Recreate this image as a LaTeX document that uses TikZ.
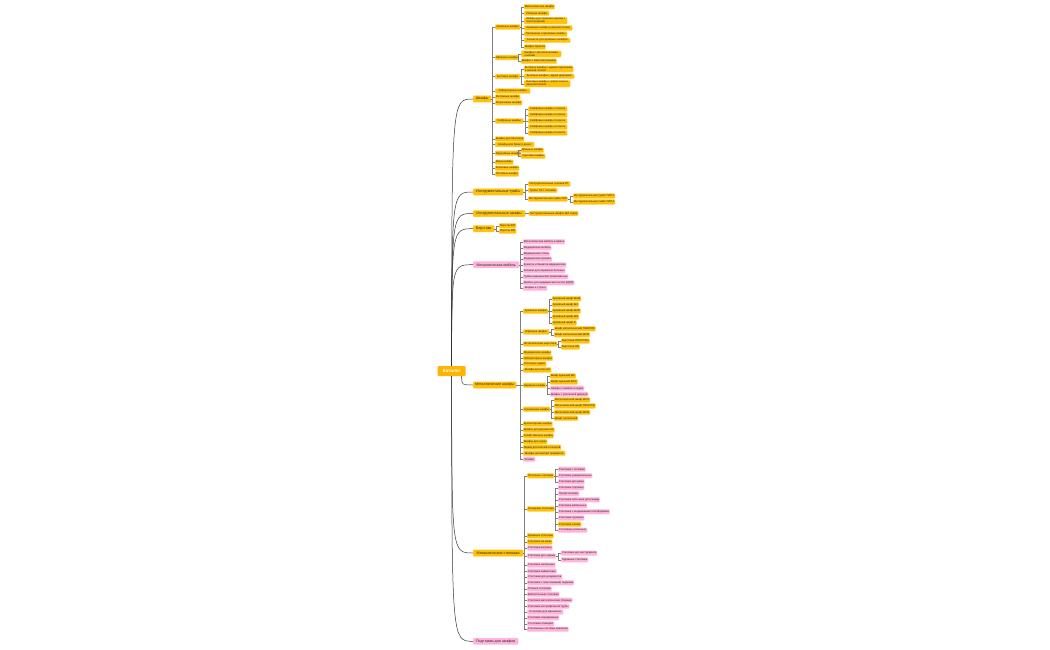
\documentclass[tikz,border=0pt]{standalone}
\usepackage{fontspec}
\setmainfont{Liberation Sans}
\definecolor{ylw}{RGB}{255,193,7}
\definecolor{ylwb}{RGB}{255,214,90}
\definecolor{pnk}{RGB}{255,179,217}
\definecolor{pnkb}{RGB}{255,206,232}
\definecolor{rootfill}{RGB}{255,180,0}
\definecolor{lnk}{RGB}{125,125,125}
\newcommand\N[6]{\node[#2,minimum width=#5pt,anchor=west] (#1) at (#3,#4) {#6};}
\newcommand\brs[2]{\foreach \cc in {#2} {\draw[brk] (#1.east) -- ([xshift=-2.5pt]\cc.west |- #1.east) |- (\cc.west);}}
\newcommand\rcv[2]{\draw[rcurve] (#1) .. controls (#1 |- #2.west) .. (#2.west);}
\tikzset{
 bx/.style={rounded corners=0.8pt, inner sep=0.6pt, minimum height=4.8pt, font=\fontsize{2.7}{3.0}\selectfont, text=black!85, line width=0.35pt, align=left},
 ynode/.style={bx, fill=ylw, draw=ylwb},
 pnode/.style={bx, fill=pnk, draw=pnkb},
 two/.style={},
 L1y/.style={ynode, font=\fontsize{3.6}{4}\selectfont, minimum height=6.5pt, inner sep=0.8pt},
 L1p/.style={pnode, font=\fontsize{3.6}{4}\selectfont, minimum height=6.5pt, inner sep=0.8pt},
 rootn/.style={fill=rootfill, text=white, font=\fontsize{4.6}{5}\selectfont\bfseries, minimum width=28pt, minimum height=10pt, rounded corners=1pt, inner sep=0.5pt},
 brk/.style={draw=lnk, line width=0.35pt},
 rcurve/.style={draw=black!80, line width=0.5pt},
}
\begin{document}
\begin{tikzpicture}[x=1pt,y=-1pt]
\fill[white] (0,0) rectangle (1050,650);
\useasboundingbox (0,0) rectangle (1050,650);

\node[rootn] (root) at (451.7,371) {Каталог};
\coordinate (rtop) at (root.north);
\coordinate (rbot) at (root.south);
\coordinate (rse) at ([xshift=10pt]root.south);

% level 1
\N{A}{L1y}{473}{99}{18}{Шкафы}
\N{B}{L1y}{473}{192}{50}{Инструментальные тумбы}
\N{C}{L1y}{473}{213.5}{52}{Инструментальные шкафы}
\N{D}{L1y}{473}{228.7}{21}{Верстаки}
\N{E}{L1p}{473}{264.7}{46}{Металлическая мебель}
\N{F}{L1y}{473}{385}{43}{Металлические шкафы}
\N{G}{L1y}{473}{553}{50}{Металлические стеллажи}
\N{H}{L1p}{473}{641.3}{45}{Подставки для шкафов}

% A: Шкафы
\N{A1}{ynode}{495}{27}{25}{Архивные шкафы}
 \N{A1a}{ynode}{524}{6.7}{26}{Металлические шкафы}
 \N{A1b}{ynode}{524}{13.3}{25}{Сборные шкафы}
 \N{A1c}{ynode}{524}{20.7}{43}{Шкафы для хранения архива с\\перегородками}
 \N{A1d}{ynode}{524}{28}{48}{Архивные шкафы (широкие полки)}
 \N{A1e}{ynode}{524}{34}{43}{Распашные и архивные шкафы}
 \N{A1f}{ynode}{524}{40.3}{46}{Запчасти для архивных шкафов}
 \N{A1g}{ynode}{524}{47}{19}{Шкафы Практик}
\N{A2}{ynode}{495}{57.5}{22}{Офисные шкафы}
 \N{A2a}{ynode}{521}{54}{40}{Шкафы с металлическими\\полками}
 \N{A2b}{ynode}{521}{61.3}{35}{Шкафы с комплектующими}
\N{A3}{ynode}{495}{76.5}{25}{Бытовые шкафы}
 \N{A3a}{ynode}{524}{69}{49}{Бытовые шкафы с одним отделением\\и нижней полкой}
 \N{A3b}{ynode}{524}{76.3}{50}{Бытовые шкафы с двумя дверцами}
 \N{A3c}{ynode}{524}{83.7}{46}{Бытовые шкафы с антресолью и\\верхней полкой}
\N{A4}{ynode}{495}{91}{35}{Лабораторные шкафы}
\N{A5}{ynode}{495}{97}{25}{Вытяжные шкафы}
\N{A6}{ynode}{495}{102.7}{27}{Встроенные шкафы}
\N{A7}{ynode}{495}{121}{28}{Сейфовые шкафы}
 \N{A7a}{ynode}{528}{109}{39}{Сейфовые шкафы 1 класса}
 \N{A7b}{ynode}{528}{115}{39}{Сейфовые шкафы 2 класса}
 \N{A7c}{ynode}{528}{121}{39}{Сейфовые шкафы 3 класса}
 \N{A7d}{ynode}{528}{127}{39}{Сейфовые шкафы 4 класса}
 \N{A7e}{ynode}{528}{133}{39}{Сейфовые шкафы 5 класса}
\N{A8}{ynode}{495}{139}{27}{Шкафы для баллонов}
\N{A9}{ynode}{495}{144.5}{39}{Шкафы для бумаг и денег}
\N{A10}{ynode}{495}{153.3}{22}{Оружейные шкафы}
 \N{A10a}{ynode}{521}{150.3}{20}{Длинные шкафы}
 \N{A10b}{ynode}{521}{156.3}{24}{Короткие шкафы}
\N{A11}{ynode}{495}{162.3}{17}{Мини-шкафы}
\N{A12}{ynode}{495}{168.3}{23}{Ключевые шкафы}
\N{A13}{ynode}{495}{174}{21}{Почтовые шкафы}

% B, C, D
\N{B1}{ynode}{528}{184}{42}{Инструментальная тележка ИТ}
\N{B2}{ynode}{528}{190.3}{29}{Тумбы ТИ с полками}
\N{B3}{ynode}{528}{199}{39}{Инструментальная тумба ТИП}
 \N{B3a}{ynode}{573}{196}{39}{Инструментальная тумба ТИП-1}
 \N{B3b}{ynode}{573}{202}{39}{Инструментальная тумба ТИП-2}
\N{C1}{ynode}{529}{213.5}{49}{Инструментальные шкафы ШИ серии}
\N{D1}{ynode}{499}{225.7}{17}{Верстак ВП}
\N{D2}{ynode}{499}{231.3}{17}{Верстак ВМ}

% E
\N{E1}{pnode}{523}{241.7}{40}{Металлическая мебель в офисе}
\N{E2}{pnode}{523}{247.7}{28}{Медицинская мебель}
\N{E3}{pnode}{523}{254}{26}{Медицинские столы}
\N{E4}{pnode}{523}{259.3}{28}{Медицинские кровати}
\N{E5}{pnode}{523}{265}{43}{Кушетки и банкетки медицинские}
\N{E6}{pnode}{523}{270.7}{41}{Тележки для перевозки больных}
\N{E7}{pnode}{523}{276.7}{41}{Тумбы медицинские прикроватные}
\N{E8}{pnode}{523}{282.7}{48}{Мебель для медицинских постов (МДП)}
\N{E9}{pnode}{523}{288.3}{24}{Ширмы и стулья}

% F
\N{F1}{ynode}{523}{311.3}{25}{Архивные шкафы}
 \N{F1a}{ynode}{552}{298.7}{27}{Архивный шкаф ШАМ}
 \N{F1b}{ynode}{552}{304.7}{25}{Архивный шкаф ШХ}
 \N{F1c}{ynode}{552}{311}{26}{Архивный шкаф ШАП}
 \N{F1d}{ynode}{552}{317}{24}{Архивный шкаф ШЯ}
 \N{F1e}{ynode}{552}{323}{23}{Архивный шкаф Ф}
\N{F2}{ynode}{523}{332}{26}{Офисные шкафы}
 \N{F2a}{ynode}{554}{328.7}{36}{Шкаф металлический ПРАКТИК}
 \N{F2b}{ynode}{554}{334.7}{31}{Шкаф металлический ШРМ}
\N{F3}{ynode}{523}{344}{34}{Металлические картотеки}
 \N{F3a}{ynode}{561}{341}{27}{Картотека ПРАКТИКА}
 \N{F3b}{ynode}{561}{347}{18}{Картотека ШК}
\N{F4}{ynode}{523}{352.7}{27}{Медицинские шкафы}
\N{F5}{ynode}{523}{358.3}{27}{Лабораторные шкафы}
\N{F6}{ynode}{523}{364}{23}{Почтовые ящики}
\N{F7}{ynode}{523}{370}{28}{Шкафы для ключей}
\N{F8}{ynode}{523}{385.3}{22}{Одежные шкафы}
 \N{F8a}{ynode}{550}{376}{24}{Шкаф одежный ШР}
 \N{F8b}{ynode}{550}{382}{26}{Шкаф одежный ШРС}
 \N{F8c}{pnode}{550}{388.3}{34}{Шкафы с замком и кодом}
 \N{F8d}{pnode}{550}{394.3}{37}{Шкафы с усиленной дверцей}
\N{F9}{ynode}{523}{409.3}{27}{Сушильные шкафы}
 \N{F9a}{ynode}{554}{400}{34}{Металлический шкаф ШСО}
 \N{F9b}{ynode}{554}{406}{39}{Металлический шкаф ПРАКТИК}
 \N{F9c}{ynode}{554}{412.3}{34}{Металлический шкаф ШРМ}
 \N{F9d}{ynode}{554}{418.3}{22}{Шкаф сушильный}
\N{F10}{ynode}{523}{424}{27}{Бухгалтерские шкафы}
\N{F11}{ynode}{523}{430}{30}{Шкафы для документов}
\N{F12}{ynode}{523}{435.7}{28}{Хозяйственные шкафы}
\N{F13}{ynode}{523}{441.7}{23}{Шкафы для сумок}
\N{F14}{ynode}{523}{447.3}{37}{Ящики для ключей и печатей}
\N{F15}{ynode}{523}{453.3}{42}{Шкафы для мелких предметов}
\N{F16}{pnode}{523}{459.3}{12}{Ячейки}

% G
\N{G1}{ynode}{527}{475.7}{26}{Полочные стеллажи}
 \N{G1a}{pnode}{558}{469.3}{26}{Стеллажи с полками}
 \N{G1b}{pnode}{558}{475.7}{32}{Стеллажи универсальные}
 \N{G1c}{pnode}{558}{481.7}{25}{Стеллажи для дома}
\N{G2}{ynode}{527}{509}{25}{Складские стеллажи}
 \N{G2a}{pnode}{558}{487.7}{24}{Стеллажи торговые}
 \N{G2b}{pnode}{558}{493.7}{21}{Профстеллажи}
 \N{G2c}{pnode}{558}{499.7}{39}{Стеллажи полочные для склада}
 \N{G2d}{pnode}{558}{505.7}{24}{Стеллажи мобильные}
 \N{G2e}{pnode}{558}{511.7}{47}{Стеллажи с выдвижными платформами}
 \N{G2f}{pnode}{558}{518}{26}{Стеллажи грузовые}
 \N{G2g}{ynode}{558}{524.3}{23}{Стеллажи легкие}
 \N{G2h}{pnode}{558}{530.3}{29}{Стеллажи усиленные}
\N{G3}{ynode}{527}{535.7}{26}{Архивные стеллажи}
\N{G4}{ynode}{527}{542}{23}{Стеллажи на заказ}
\N{G5}{pnode}{527}{548}{25}{Стеллажи-витрины}
\N{G6}{pnode}{527}{556}{28}{Стеллажи для гаража}
 \N{G6a}{pnode}{561}{553.3}{33}{Стеллажи для инструмента}
 \N{G6b}{pnode}{561}{559.7}{27}{Гаражные стеллажи}
\N{G7}{pnode}{527}{565}{26}{Стеллажи напольные}
\N{G8}{pnode}{527}{571.3}{28}{Стеллажи кабинетные}
\N{G9}{pnode}{527}{577}{35}{Стеллажи для документов}
\N{G10}{pnode}{527}{582.7}{45}{Стеллажи с пластиковыми ящиками}
\N{G11}{pnode}{527}{588.7}{24}{Угловые стеллажи}
\N{G12}{pnode}{527}{594.3}{29}{Библиотечные стеллажи}
\N{G13}{pnode}{527}{600.3}{42}{Стеллажи металлические сборные}
\N{G14}{pnode}{527}{606.3}{41}{Стеллажи из профильной трубы}
\N{G15}{pnode}{527}{612}{36}{Стеллажи для магазинов}
\N{G16}{pnode}{527}{617.7}{32}{Стеллажи передвижные}
\N{G17}{pnode}{527}{623.7}{27}{Стеллажи-этажерки}
\N{G18}{pnode}{527}{629.3}{39}{Стеллажные системы хранения}

% root curves
\rcv{rtop}{A}
\rcv{rtop}{B}
\rcv{rtop}{C}
\rcv{rtop}{D}
\rcv{rtop}{E}
\rcv{rse}{F}
\rcv{rbot}{G}
\rcv{rbot}{H}

% brackets
\brs{A}{A1,A2,A3,A4,A5,A6,A7,A8,A9,A10,A11,A12,A13}
\brs{A1}{A1a,A1b,A1c,A1d,A1e,A1f,A1g}
\brs{A2}{A2a,A2b}
\brs{A3}{A3a,A3b,A3c}
\brs{A7}{A7a,A7b,A7c,A7d,A7e}
\brs{A10}{A10a,A10b}
\brs{B}{B1,B2,B3}
\brs{B3}{B3a,B3b}
\brs{C}{C1}
\brs{D}{D1,D2}
\brs{E}{E1,E2,E3,E4,E5,E6,E7,E8,E9}
\brs{F}{F1,F2,F3,F4,F5,F6,F7,F8,F9,F10,F11,F12,F13,F14,F15,F16}
\brs{F1}{F1a,F1b,F1c,F1d,F1e}
\brs{F2}{F2a,F2b}
\brs{F3}{F3a,F3b}
\brs{F8}{F8a,F8b,F8c,F8d}
\brs{F9}{F9a,F9b,F9c,F9d}
\brs{G}{G1,G2,G3,G4,G5,G6,G7,G8,G9,G10,G11,G12,G13,G14,G15,G16,G17,G18}
\brs{G1}{G1a,G1b,G1c}
\brs{G2}{G2a,G2b,G2c,G2d,G2e,G2f,G2g,G2h}
\brs{G6}{G6a,G6b}
\end{tikzpicture}
\end{document}
